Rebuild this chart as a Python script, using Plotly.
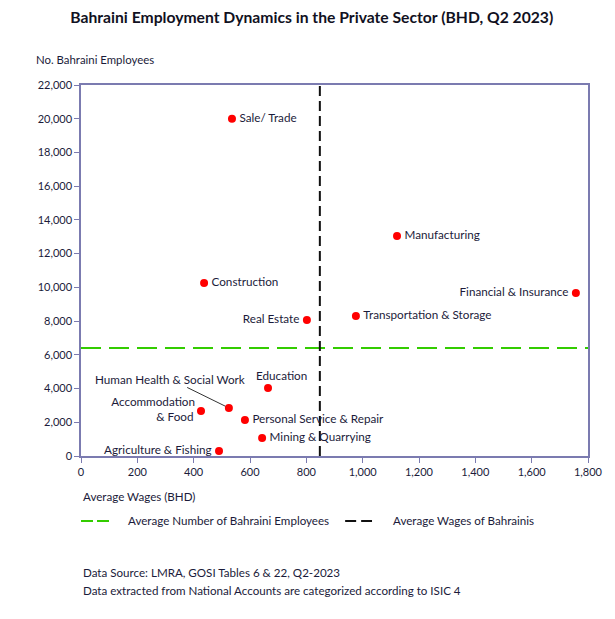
import plotly.graph_objects as go

sectors = ["Sale/ Trade", "Manufacturing", "Construction", "Financial & Insurance",
           "Real Estate", "Transportation & Storage", "Education",
           "Human Health & Social Work", "Accommodation<br>& Food",
           "Personal Service & Repair", "Mining & Quarrying", "Agriculture & Fishing"]
wages = [536, 1122, 437, 1757, 802, 976, 664, 525, 426, 582, 643, 490]
employees = [20000, 13050, 10260, 9670, 8070, 8300, 4030, 2850, 2670, 2140, 1070, 300]
avg_employees = 6400
avg_wage = 848

label_pos = ["middle right", "middle right", "middle right", "middle left",
             "middle left", "middle right", None, None, "middle left",
             "middle right", "middle right", "middle left"]

TXT = "#1b1b3a"
FONT = "Lato"
GREEN = "#33cc00"
BLACK = "#111111"

fig = go.Figure()

fig.add_trace(go.Scatter(
    x=[0, 1800], y=[avg_employees, avg_employees], mode="lines",
    line=dict(color=GREEN, width=2, dash="20px,8px"),
    name="Average Number of Bahraini Employees", hoverinfo="skip", showlegend=False))
fig.add_trace(go.Scatter(
    x=[avg_wage, avg_wage], y=[0, 22000], mode="lines",
    line=dict(color=BLACK, width=2, dash="10px,5px"),
    name="Average Wages of Bahrainis", hoverinfo="skip", showlegend=False))

txt_idx = [i for i, p in enumerate(label_pos) if p is not None]
fig.add_trace(go.Scatter(
    x=[wages[i] for i in txt_idx], y=[employees[i] for i in txt_idx],
    text=["\u2009" + sectors[i] if label_pos[i].endswith("right") else sectors[i] + "\u2009"
          for i in txt_idx],
    textposition=[label_pos[i] for i in txt_idx],
    mode="markers+text", marker=dict(color="#ff0000", size=8),
    textfont=dict(family=FONT, size=11.7, color=TXT),
    showlegend=False, cliponaxis=False))
other = [i for i, p in enumerate(label_pos) if p is None]
fig.add_trace(go.Scatter(
    x=[wages[i] for i in other], y=[employees[i] for i in other],
    mode="markers", marker=dict(color="#ff0000", size=8), showlegend=False))

# Education label above
fig.add_annotation(x=wages[6], y=employees[6], text=sectors[6], showarrow=False,
                   xshift=13, yshift=13, font=dict(family=FONT, size=11.7, color=TXT))
# Human Health label with leader
fig.add_annotation(x=wages[7], y=employees[7], text=sectors[7], showarrow=True,
                   arrowhead=0, arrowwidth=1, arrowcolor="#333333", ax=-59, ay=-29,
                   standoff=4, font=dict(family=FONT, size=11.7, color=TXT))

def note(x, y, text, size=11.6):
    fig.add_annotation(xref="paper", yref="paper", x=x, y=y, xanchor="left",
                       yanchor="middle", text=text, showarrow=False,
                       font=dict(family=FONT, size=size, color=TXT))

note(-0.093, 1.07, "No. Bahraini Employees", 11.4)
note(0, -0.108, "Average Wages (BHD)")
note(0, -0.313, "Data Source: LMRA, GOSI Tables 6 & 22, Q2-2023")
note(0, -0.362, "Data extracted from National Accounts are categorized according to ISIC 4")

# manual legend
leg_y = -0.175
fig.add_shape(type="line", xref="paper", yref="paper", x0=0, x1=0.061, y0=leg_y, y1=leg_y,
              line=dict(color=GREEN, width=2, dash="12px,4px"))
note(0.089, leg_y, "Average Number of Bahraini Employees")
fig.add_shape(type="line", xref="paper", yref="paper", x0=0.521, x1=0.574, y0=leg_y, y1=leg_y,
              line=dict(color=BLACK, width=2, dash="11px,5px"))
note(0.611, leg_y, "Average Wages of Bahrainis")

axis_common = dict(showline=True, linecolor="#7b7bb0", linewidth=1.5, mirror=True,
                   showgrid=False, zeroline=False, ticks="outside", ticklen=5,
                   tickcolor="#7b7bb0", tickformat=",",
                   tickfont=dict(family=FONT, size=11, color=TXT))

fig.update_layout(
    width=615, height=619,
    margin=dict(l=73, r=35, t=77, b=171, autoexpand=False),
    paper_bgcolor="white", plot_bgcolor="white",
    title=dict(text="<b>Bahraini Employment Dynamics in the Private Sector (BHD, Q2 2023)</b>",
               x=0.494, xanchor="center", y=0.985, yanchor="middle",
               font=dict(family=FONT, size=15.7, color="#111122")),
    xaxis=dict(range=[0, 1800], dtick=200, **axis_common),
    yaxis=dict(range=[0, 22000], dtick=2000, **axis_common),
    showlegend=False,
)

fig.write_html("out.html")
